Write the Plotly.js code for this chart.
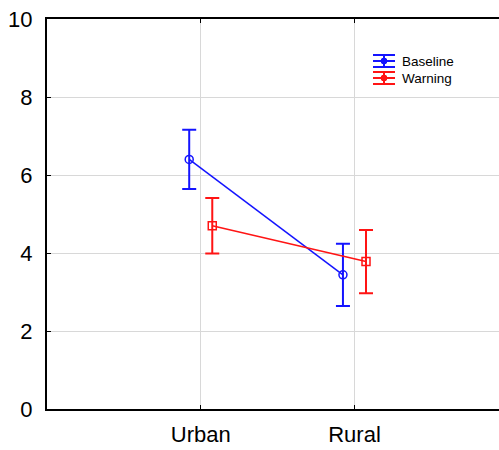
<!DOCTYPE html>
<html>
<head>
<meta charset="utf-8">
<script src="https://cdn.plot.ly/plotly-3.0.1.min.js"></script>
<style>
html, body { margin: 0; padding: 0; background: #fff; overflow: hidden; }
#chart { width: 499px; height: 450px; }
</style>
</head>
<body>
<div id="chart"></div>
<script>
const categories = ['Urban', 'Rural'];
const seriesNames = ['Baseline', 'Warning'];
const baselineMeans = [6.40, 3.44];
const baselineErr = [0.76, 0.80];
const warningMeans = [4.70, 3.78];
const warningErr = [0.71, 0.81];
const yTickVals = [0, 2, 4, 6, 8, 10];

const blue = '#1414ff';
const red = '#ff1414';
const font = 'Liberation Sans, Arial, sans-serif';

function series(name, means, errs, color, symbol, group) {
  return {
    type: 'scatter', mode: 'lines+markers', name: name,
    x: categories, y: means,
    offsetgroup: group, alignmentgroup: 'a',
    line: { color: color, width: 1.5 },
    marker: { symbol: symbol, size: 8, color: color, line: { color: color, width: 1.5 } },
    error_y: { type: 'data', array: errs, visible: true, color: color, thickness: 2, width: 7 },
    showlegend: false, cliponaxis: false
  };
}

const traces = [
  series(seriesNames[0], baselineMeans, baselineErr, blue, 'circle-open', 'b'),
  series(seriesNames[1], warningMeans, warningErr, red, 'square-open', 'w')
];

// legend glyphs (error-bar style symbol) drawn in paper space
const legendColors = [blue, red];
const legendY = [0.8923, 0.8487];
const legendX = 0.7456;
const shapes = [];
const annotations = [];
seriesNames.forEach((n, i) => {
  const c = legendColors[i];
  const base = { type: 'line', xref: 'paper', yref: 'paper', xsizemode: 'pixel', ysizemode: 'pixel',
                 xanchor: legendX, yanchor: legendY[i], line: { color: c, width: 2 } };
  shapes.push(Object.assign({}, base, { x0: -11, x1: 11, y0: 6, y1: 6 }));
  shapes.push(Object.assign({}, base, { x0: -11, x1: 11, y0: 0, y1: 0 }));
  shapes.push(Object.assign({}, base, { x0: -11, x1: 11, y0: -6, y1: -6 }));
  shapes.push(Object.assign({}, base, { x0: 0, x1: 0, y0: -6, y1: 6 }));
  shapes.push({ type: 'circle', xref: 'paper', yref: 'paper', xsizemode: 'pixel', ysizemode: 'pixel',
                xanchor: legendX, yanchor: legendY[i], x0: -3, x1: 3, y0: -3, y1: 3,
                fillcolor: c, line: { color: c, width: 1 } });
  annotations.push({ xref: 'paper', yref: 'paper', x: legendX, y: legendY[i], xshift: 16,
                     xanchor: 'left', yanchor: 'middle', text: n, showarrow: false,
                     font: { family: font, size: 13.5, color: '#000' } });
});

const layout = {
  width: 499, height: 450,
  margin: { l: 47, r: 0, t: 19, b: 41, pad: 0 },
  paper_bgcolor: '#fff', plot_bgcolor: '#fff',
  showlegend: false,
  scattermode: 'group', scattergap: 0.7,
  font: { family: font, color: '#000' },
  xaxis: {
    type: 'category', range: [-1, 1.94],
    showgrid: true, gridcolor: '#d8d8d8', gridwidth: 1,
    showline: true, linecolor: '#000', linewidth: 2, mirror: 'ticks',
    ticks: 'inside', ticklen: 4, tickcolor: '#000', tickwidth: 1,
    tickfont: { family: font, size: 22, color: '#000' },
    ticklabelstandoff: 5,
    zeroline: false, fixedrange: true
  },
  yaxis: {
    range: [0, 10], tickvals: yTickVals,
    showgrid: true, gridcolor: '#d8d8d8', gridwidth: 1,
    showline: true, linecolor: '#000', linewidth: 2, mirror: false,
    ticks: 'inside', ticklen: 4, tickcolor: '#000', tickwidth: 1,
    tickfont: { family: font, size: 22, color: '#000' },
    ticklabelstandoff: 8,
    zeroline: false, fixedrange: true
  },
  shapes: shapes,
  annotations: annotations
};

Plotly.newPlot('chart', traces, layout, { staticPlot: true, displayModeBar: false });
</script>
</body>
</html>
